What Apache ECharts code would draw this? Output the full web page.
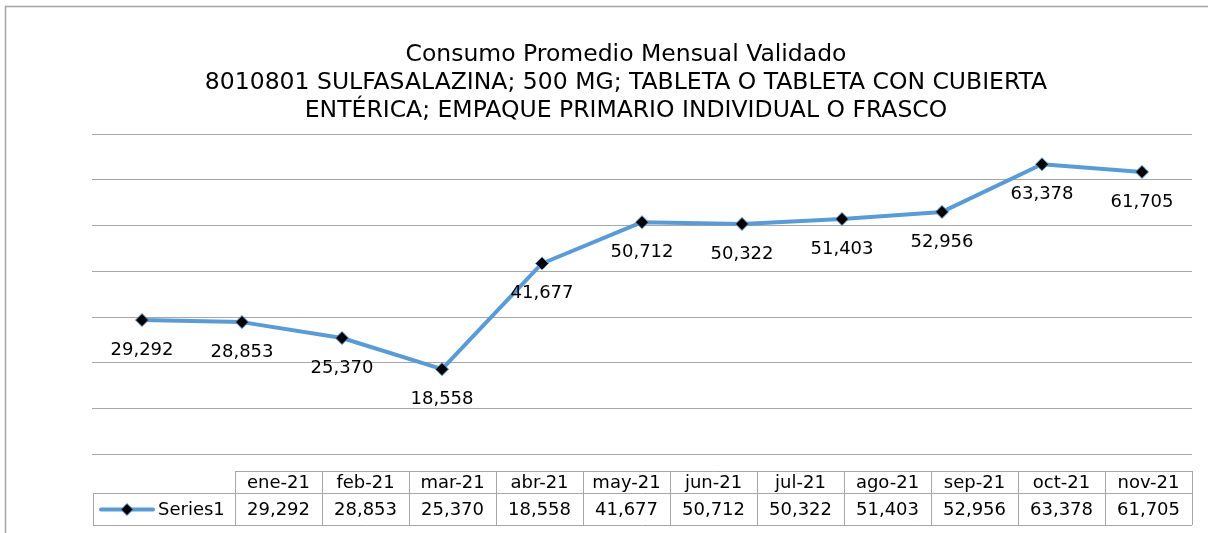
<!DOCTYPE html>
<html lang="es">

<head>
    <meta charset="UTF-8">
    <title>Consumo Promedio Mensual Validado</title>
    <script src="https://cdn.jsdelivr.net/npm/echarts@6/dist/echarts.min.js"></script>
    <style>
        html, body { margin: 0; padding: 0; background: #fff; }
    </style>
</head>

<body>
    <div id="echart" style="width: 1208px; height: 533px;"></div>
</body>

<script>
    // datos de la gráfica
    const meses = ['ene-21', 'feb-21', 'mar-21', 'abr-21', 'may-21', 'jun-21', 'jul-21', 'ago-21', 'sep-21', 'oct-21', 'nov-21'];
    const consumo = [29292, 28853, 25370, 18558, 41677, 50712, 50322, 51403, 52956, 63378, 61705];
    const serieNombre = 'Series1';
    const titulo = 'Consumo Promedio Mensual Validado\n8010801 SULFASALAZINA; 500 MG; TABLETA O TABLETA CON CUBIERTA\nENTÉRICA; EMPAQUE PRIMARIO INDIVIDUAL O FRASCO';

    const fuente = 'DejaVu Sans, Verdana, sans-serif';
    const gris = '#a6a6a6';
    const azul = '#5b9bd5';

    const fmt = v => v.toLocaleString('en-US');

    // tabla de datos debajo del gráfico (como en Excel)
    function tablaDatos() {
        const x0 = 235, colW = 87, legX = 93;
        const yHead = 471, yMid = 493, yBot = 525;
        const els = [];
        const linea = (x1, y1, x2, y2) => els.push({
            type: 'line', shape: { x1, y1, x2, y2 },
            style: { stroke: gris, lineWidth: 1 }
        });
        const texto = (x, y, t, align) => els.push({
            type: 'text', x, y,
            style: { text: t, fill: '#000', font: '18px ' + fuente, textAlign: align || 'center', textVerticalAlign: 'middle' }
        });
        const xEnd = x0 + colW * meses.length;
        linea(x0, yHead + 0.5, xEnd, yHead + 0.5);
        linea(legX, yMid + 0.5, xEnd, yMid + 0.5);
        linea(legX, yBot + 0.5, xEnd, yBot + 0.5);
        linea(legX + 0.5, yMid, legX + 0.5, yBot);
        for (let i = 0; i <= meses.length; i++) {
            linea(x0 + colW * i + 0.5, yHead, x0 + colW * i + 0.5, yBot);
        }
        meses.forEach((m, i) => {
            texto(x0 + colW * i + colW / 2, (yHead + yMid) / 2 + 1, m);
            texto(x0 + colW * i + colW / 2, (yMid + yBot) / 2 + 1, fmt(consumo[i]));
        });
        // clave de la leyenda
        const ly = (yMid + yBot) / 2 + 0.5;
        els.push({ type: 'line', shape: { x1: 101, y1: ly, x2: 153, y2: ly }, style: { stroke: azul, lineWidth: 4, lineCap: 'round' } });
        els.push({ type: 'polygon', shape: { points: [[127, ly - 6], [133, ly], [127, ly + 6], [121, ly]] }, style: { fill: '#000', stroke: azul, lineWidth: 1 } });
        texto(158, ly + 0.5, serieNombre, 'left');
        return els;
    }

    var myChart = echarts.init(document.getElementById('echart'));

    myChart.setOption({
        animation: false,
        title: {
            text: titulo,
            left: 626,
            top: 41,
            padding: 0,
            textAlign: 'center',
            textStyle: {
                fontFamily: fuente,
                fontSize: 23.5,
                fontWeight: 'normal',
                color: '#000',
                lineHeight: 28
            }
        },
        grid: {
            left: 92,
            right: 16,
            top: 134,
            bottom: 79
        },
        xAxis: {
            type: 'category',
            data: meses,
            boundaryGap: true,
            axisLine: { show: false },
            axisTick: { show: false },
            axisLabel: { show: false }
        },
        yAxis: {
            type: 'value',
            min: 0,
            max: 70000,
            interval: 10000,
            axisLabel: { show: false },
            axisLine: { show: false },
            axisTick: { show: false },
            splitLine: { lineStyle: { color: gris, width: 1 } }
        },
        series: [
            {
                name: serieNombre,
                type: 'line',
                data: consumo,
                symbol: 'diamond',
                symbolSize: 13,
                lineStyle: { color: azul, width: 4 },
                itemStyle: { color: '#000', borderColor: azul, borderWidth: 1 },
                label: {
                    show: true,
                    position: 'bottom',
                    distance: 14,
                    fontFamily: fuente,
                    fontSize: 18,
                    color: '#000',
                    formatter: p => fmt(p.value)
                }
            }
        ],
        graphic: [
            // marco exterior
            { type: 'polyline', shape: { points: [[5.5, 533], [5.5, 6.5], [1208, 6.5]] }, style: { stroke: gris, fill: null, lineWidth: 1.5 } }
        ].concat(tablaDatos())
    });
</script>

</html>
